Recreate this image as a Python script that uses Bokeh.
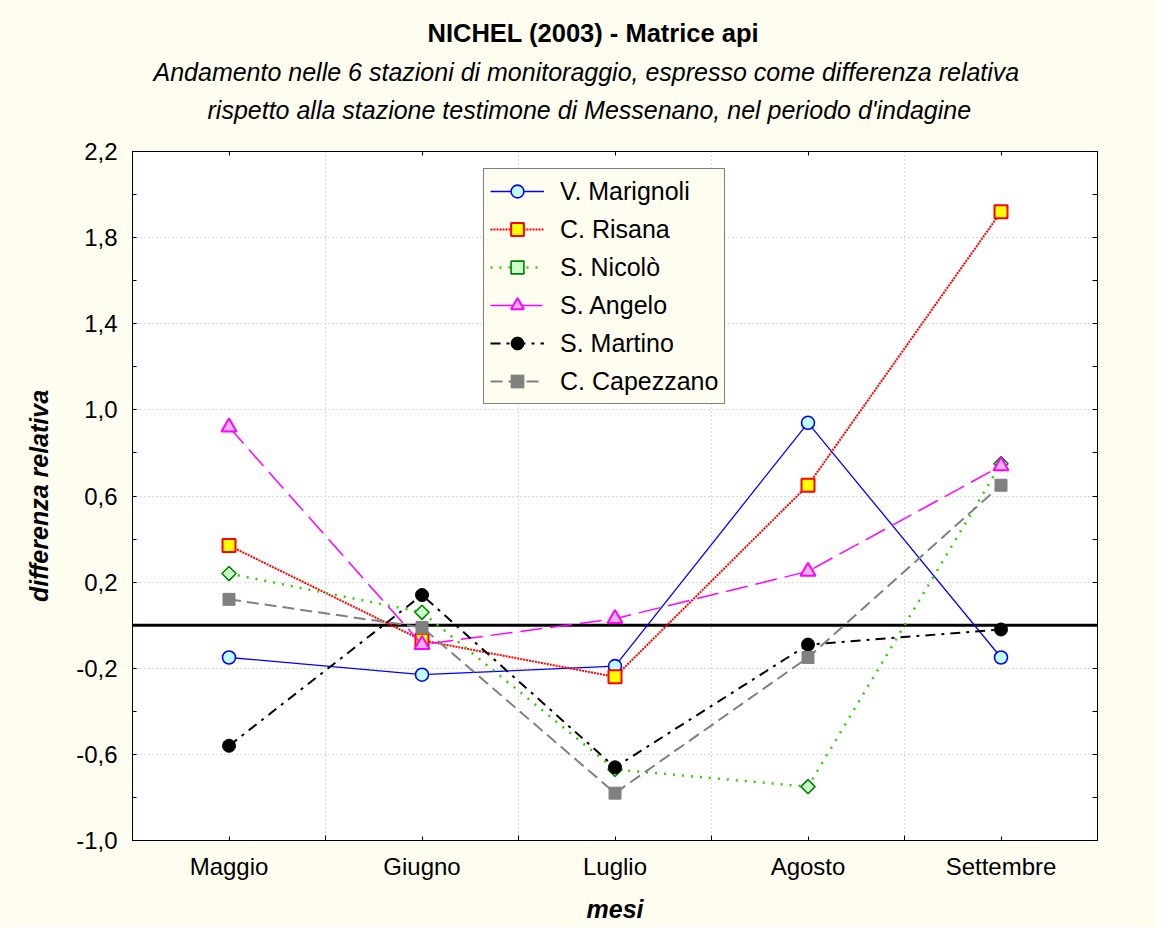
from bokeh.plotting import figure
from bokeh.models import LinearAxis, FixedTicker, CustomJSTickFormatter, Span, Title
from bokeh.embed import file_html
from bokeh.resources import INLINE

months = ["Maggio", "Giugno", "Luglio", "Agosto", "Settembre"]
y_ticks = [-1.0, -0.6, -0.2, 0.2, 0.6, 1.0, 1.4, 1.8, 2.2]
y_minor = [-0.8, -0.4, 0.0, 0.4, 0.8, 1.2, 1.6, 2.0]

marignoli = [-0.15, -0.23, -0.19, 0.94, -0.15]
risana = [0.37, -0.07, -0.24, 0.65, 1.92]
nicolo = [0.24, 0.06, -0.67, -0.75, 0.75]
angelo = [0.92, -0.09, 0.03, 0.25, 0.74]
martino = [-0.56, 0.14, -0.66, -0.09, -0.02]
capezzano = [0.12, -0.01, -0.78, -0.15, 0.65]

CREAM = "#FFFDF0"
FONT = "Liberation Sans"
xs = list(range(len(months)))

p = figure(width=1155, height=927, x_range=(-0.5, 4.5), y_range=(-1.0, 2.2),
           output_backend="svg", toolbar_location=None, title=None,
           background_fill_color="white", border_fill_color=CREAM,
           min_border_left=132, min_border_right=58, min_border_top=151, min_border_bottom=87)
p.outline_line_color = "black"
p.outline_line_width = 1

# x axis
ax = p.xaxis[0]
ax.ticker = FixedTicker(ticks=xs, minor_ticks=[0.5, 1.5, 2.5, 3.5])
ax.formatter = CustomJSTickFormatter(args=dict(labels=months), code="return labels[Math.round(tick)];")
ax.major_tick_in = 4
ax.major_tick_out = 0
ax.minor_tick_in = 5
ax.minor_tick_out = 0
ax.axis_line_color = "black"
ax.major_tick_line_color = "black"
ax.minor_tick_line_color = "black"
ax.major_label_text_font = FONT
ax.major_label_text_font_size = "24px"
ax.major_label_text_color = "black"
ax.major_label_standoff = 12
ax.axis_label = "mesi"
ax.axis_label_text_font = FONT
ax.axis_label_text_font_size = "25px"
ax.axis_label_text_font_style = "bold italic"
ax.axis_label_text_color = "black"
ax.axis_label_standoff = 12

# y axis
ay = p.yaxis[0]
ay.ticker = FixedTicker(ticks=y_ticks, minor_ticks=y_minor)
ay.formatter = CustomJSTickFormatter(code="return tick.toFixed(1).replace('.', ',');")
ay.major_tick_in = 4
ay.major_tick_out = 0
ay.minor_tick_in = 4
ay.minor_tick_out = 0
ay.axis_line_color = "black"
ay.major_tick_line_color = "black"
ay.minor_tick_line_color = "black"
ay.major_label_text_font = FONT
ay.major_label_text_font_size = "24px"
ay.major_label_text_color = "black"
ay.major_label_standoff = 15
ay.axis_label = "differenza relativa"
ay.axis_label_text_font = FONT
ay.axis_label_text_font_size = "25px"
ay.axis_label_text_font_style = "bold italic"
ay.axis_label_text_color = "black"
ay.axis_label_standoff = 20

# right axis (ticks only)
ar = LinearAxis(ticker=FixedTicker(ticks=y_ticks, minor_ticks=y_minor),
                formatter=CustomJSTickFormatter(code="return '';"),
                major_label_text_font_size="0px",
                major_tick_in=5, major_tick_out=0, minor_tick_in=5, minor_tick_out=0,
                axis_line_color="black", major_tick_line_color="black", minor_tick_line_color="black")
p.add_layout(ar, "right")

# top axis (ticks only)
at = LinearAxis(ticker=FixedTicker(ticks=xs, minor_ticks=[]),
                formatter=CustomJSTickFormatter(code="return '';"),
                major_label_text_font_size="0px",
                major_tick_in=4, major_tick_out=0, minor_tick_in=0, minor_tick_out=0,
                axis_line_color="black", major_tick_line_color="black")
p.add_layout(at, "above")

# spacer + titles (first added = closest to frame)
p.add_layout(Title(text=" ", text_font=FONT, text_font_size="16px", standoff=5), "above")
p.add_layout(Title(text="rispetto alla stazione testimone di Messenano, nel periodo d'indagine",
                   text_font=FONT, text_font_size="25px", text_font_style="italic", text_color="black",
                   align="left", offset=75, standoff=8), "above")
p.add_layout(Title(text="Andamento nelle 6 stazioni di monitoraggio, espresso come differenza relativa",
                   text_font=FONT, text_font_size="25px", text_font_style="italic", text_color="black",
                   align="left", offset=21, standoff=8), "above")
p.add_layout(Title(text="NICHEL (2003) - Matrice api",
                   text_font=FONT, text_font_size="25.5px", text_font_style="bold", text_color="black",
                   align="left", offset=295, standoff=10), "above")

# grids
p.xgrid.ticker = FixedTicker(ticks=[0.5, 1.5, 2.5, 3.5])
p.ygrid.ticker = FixedTicker(ticks=y_ticks)
for g in (p.xgrid[0], p.ygrid[0]):
    g.grid_line_color = "#B8B8B8"
    g.grid_line_dash = "1 3"
    g.grid_line_width = 1

# zero line
p.add_layout(Span(location=0, dimension="width", line_color="black", line_width=3, level="underlay"))

# series
lbl = "V. Marignoli"
p.line(xs, marignoli, line_color="#0000FF", line_width=1.3, legend_label=lbl)
p.scatter(xs, marignoli, marker="circle", size=13, fill_color="#C0FFFF", line_color="#0000FF", line_width=1.6, legend_label=lbl)

lbl = "C. Risana"
p.line(xs, risana, line_color="#FF0000", line_width=2, line_dash="2 1", legend_label=lbl)
p.scatter(xs, risana, marker="square", size=13, fill_color="#FFFF00", line_color="#FF0000", line_width=2, legend_label=lbl)

lbl = "S. Nicolò"
p.line(xs, nicolo, line_color="#33CC00", line_width=2.5, line_dash="2 7", legend_label=lbl)
p.scatter(xs, nicolo, marker="square", angle=0.785398, size=10, fill_color="#C8FFC8", line_color="#008000", line_width=1.6, legend_label=lbl)

lbl = "S. Angelo"
p.line(xs, angelo, line_color="#FF00FF", line_width=1.5, line_dash="22 8", legend_label=lbl)
p.scatter(xs, angelo, marker="triangle", size=15, fill_color="#F4B4F4", line_color="#FF00FF", line_width=2, legend_label=lbl)

lbl = "S. Martino"
p.line(xs, martino, line_color="black", line_width=2, line_dash="10 6 3 6", legend_label=lbl)
p.scatter(xs, martino, marker="circle", size=13, fill_color="black", line_color="black", legend_label=lbl)

lbl = "C. Capezzano"
p.line(xs, capezzano, line_color="#808080", line_width=2, line_dash="12 6", legend_label=lbl)
p.scatter(xs, capezzano, marker="square", size=12, fill_color="#808080", line_color="#808080", legend_label=lbl)

lg = p.legend[0]
lg.location = (351, 436)
lg.background_fill_color = CREAM
lg.background_fill_alpha = 1
lg.border_line_color = "black"
lg.border_line_width = 1
lg.label_text_font = FONT
lg.label_text_font_size = "25px"
lg.label_text_color = "black"
lg.glyph_width = 54
lg.glyph_height = 32
lg.label_height = 20
lg.label_standoff = 16
lg.padding = 6
lg.spacing = 6
lg.margin = 0

open("out.html", "w").write(file_html(p, INLINE))
